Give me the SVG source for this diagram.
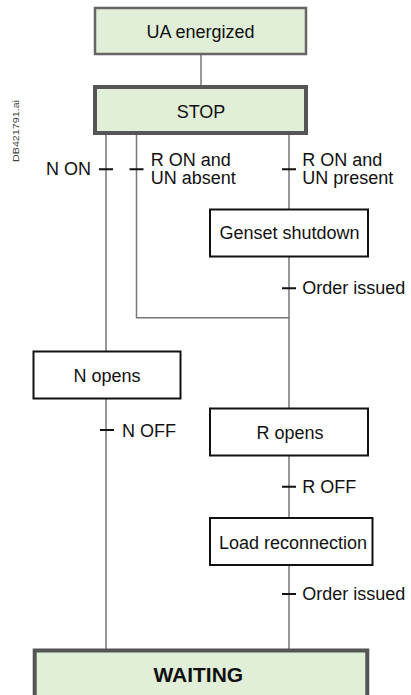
<svg xmlns="http://www.w3.org/2000/svg" width="411" height="695" viewBox="0 0 411 695">
<style>
text{font-family:"Liberation Sans",Arial,sans-serif;font-size:18px;fill:#111}
.c{text-anchor:middle}
.g{fill:#e1eed8;stroke:#666;stroke-width:2.5}
.gt{fill:#e1eed8;stroke:#555;stroke-width:4}
.w{fill:#fff;stroke:#111;stroke-width:2}
.ln{stroke:#777;stroke-width:1.5;fill:none}
.tk{stroke:#111;stroke-width:2}
</style>
<rect width="411" height="695" fill="#fff"/>
<text transform="translate(18.5,162) rotate(-90)" style="font-size:9px;fill:#444" textLength="62" lengthAdjust="spacingAndGlyphs">DB421791.ai</text>
<g id="connectors">
<path class="ln" d="M201 54V86"/>
<path class="ln" d="M106 135V351M106 399V649"/>
<path class="ln" d="M136.5 135V317.7H289"/>
<path class="ln" d="M289 135V209M289 257V408M289 456V517M289 565V649"/>
<path class="tk" d="M99 169.3H113M129.5 169.3H143.5M282 169.3H296M282 288.3H296M100 430H114M282 486.7H296M282 594H296"/>
<text x="91" y="175" text-anchor="end">N ON</text>
<text x="150.7" y="165.7">R ON and</text>
<text x="150.7" y="184.3">UN absent</text>
<text x="302.3" y="165.7">R ON and</text>
<text x="302.3" y="184.3">UN present</text>
<text x="302.3" y="294.3">Order issued</text>
<text x="122" y="436.7">N OFF</text>
<text x="302.3" y="493.3">R OFF</text>
<text x="302.3" y="600">Order issued</text>
</g>
<g id="ua-energized">
<rect class="g" x="95" y="8" width="211" height="46"/>
<text class="c" x="200.5" y="37.5">UA energized</text>
</g>
<g id="stop">
<rect class="gt" x="95" y="87" width="211" height="46"/>
<text class="c" x="201" y="118.3">STOP</text>
</g>
<g id="genset-shutdown">
<rect class="w" x="210" y="209.5" width="158" height="47"/>
<text class="c" x="289.5" y="239">Genset shutdown</text>
</g>
<g id="n-opens">
<rect class="w" x="33.5" y="351.5" width="147" height="47"/>
<text class="c" x="107" y="382">N opens</text>
</g>
<g id="r-opens">
<rect class="w" x="210" y="408.5" width="158" height="47"/>
<text class="c" x="290" y="439">R opens</text>
</g>
<g id="load-reconnection">
<rect class="w" x="210" y="518" width="162.5" height="47"/>
<text class="c" x="293" y="549">Load reconnection</text>
</g>
<g id="waiting">
<rect class="gt" x="34.7" y="650.5" width="332.6" height="60"/>
<text class="c" x="198.3" y="681.7" style="font-weight:bold;font-size:21px">WAITING</text>
</g>
</svg>
